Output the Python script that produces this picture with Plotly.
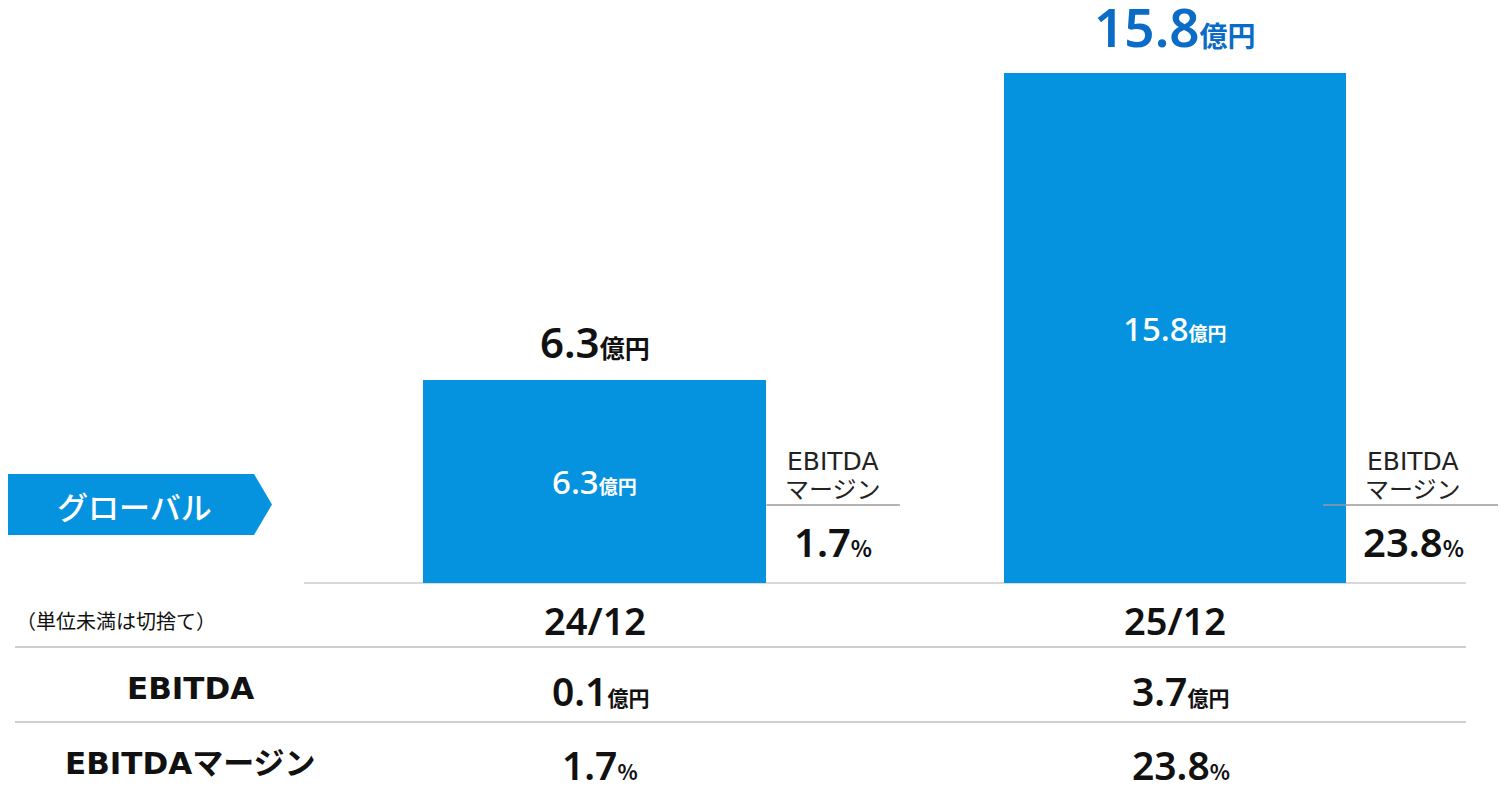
import plotly.graph_objects as go

# ---- data ----
periods = ["24/12", "25/12"]
revenue = [6.3, 15.8]          # 億円
ebitda = [0.1, 3.7]            # 億円
ebitda_margin = [1.7, 23.8]    # %
segment = "グローバル"
note = "（単位未満は切捨て）"
row_labels = ["EBITDA", "EBITDAマージン"]
side_label = ["EBITDA", "マージン"]

W, H = 1506, 793
O = 8  # page body margin offset
BLUE = "#0593E0"
JP = "Noto Sans CJK JP"
NUM = "Noto Sans, Noto Sans CJK JP"
LAT = "DejaVu Sans, Noto Sans CJK JP"
top_colors = ["#111111", "#0A6CC6"]


def px(x):
    return (x - O) / W


def py(y):
    return 1 - (y - O) / H


fig = go.Figure()
fig.add_trace(go.Bar(
    x=periods, y=revenue, width=0.59,
    marker=dict(color=BLUE, line=dict(width=0)),
    hoverinfo="skip",
))

# axis mapping: category spacing 580.5 px, first category centre at 594.5 px (page)
k = 580.5
xmin = -(594.5 - O) / k
xmax = xmin + W / k
ky = 510 / 15.8
ymin = -(H - (583 - O)) / ky
ymax = ymin + H / ky

fig.update_layout(
    width=W, height=H,
    margin=dict(l=0, r=0, t=0, b=0),
    paper_bgcolor="white", plot_bgcolor="white",
    showlegend=False,
    font=dict(family=JP, color="#111111"),
    xaxis=dict(range=[xmin, xmax], visible=False, fixedrange=True),
    yaxis=dict(range=[ymin, ymax], visible=False, fixedrange=True),
    bargap=0,
)

ann = []
shapes = []


def A(**kw):
    kw.setdefault("showarrow", False)
    kw.setdefault("xanchor", "center")
    kw.setdefault("yanchor", "middle")
    ann.append(kw)


def unit(u, size):
    return f"<span style='font-size:{size}px;font-family:{JP};font-weight:700'>{u}</span>"


for i, v in enumerate(revenue):
    big = 53 if i == 1 else 42
    small = 28 if i == 1 else 25
    A(x=i, y=v, xref="x", yref="y", yanchor="bottom", yshift=8,
      text=f"{v:.1f}{unit('億円', small)}",
      font=dict(size=big, color=top_colors[i], family=NUM, weight=600))
    A(x=i, y=v / 2, xref="x", yref="y",
      text=f"{v:.1f}{unit('億円', 19)}",
      font=dict(size=33, color="white", family=NUM, weight=500))
    A(x=i + 0.41, y=py(476), xref="x", yref="paper",
      text=(f"<span style='font-size:25px;font-family:{LAT}'>{side_label[0]}</span><br>"
            f"<span style='font-size:24px'>{side_label[1]}</span>"),
      font=dict(size=21.5, color="#222222", family=JP))
    A(x=i + 0.41, y=py(541), xref="x", yref="paper",
      text=f"{ebitda_margin[i]:.1f}{unit('%', 22)}",
      font=dict(size=40, color="#111111", family=NUM, weight=600))

# divider lines next to bars
line_off = [(0.296, 0.526), (0.255, 0.57)]
for i, (a, b) in enumerate(line_off):
    shapes.append(dict(type="line", xref="x", yref="paper",
                       x0=i + a, x1=i + b, y0=py(505), y1=py(505),
                       line=dict(color="#9a9a9a", width=1.5)))

# baseline
shapes.append(dict(type="line", xref="paper", yref="y", x0=px(304), x1=px(1466),
                   y0=0, y1=0, line=dict(color="#d9d9d9", width=2), layer="below"))

# segment tag (arrow shape)
path = (f"M {px(8)},{py(474)} L {px(254)},{py(474)} L {px(272)},{py(504.5)} "
        f"L {px(254)},{py(535)} L {px(8)},{py(535)} Z")
shapes.append(dict(type="path", xref="paper", yref="paper", path=path,
                   fillcolor=BLUE, line=dict(width=0)))
A(x=px(135), y=py(506), xref="paper", yref="paper", text=segment,
  font=dict(size=31, color="white", family=JP, weight=500))

# table
A(x=px(14), y=py(620), xref="paper", yref="paper", xanchor="left", text=note,
  font=dict(size=20, color="#111111", family=JP))
for i, p in enumerate(periods):
    A(x=i, y=py(620), xref="x", yref="paper", text=p,
      font=dict(size=38, color="#111111", family=NUM, weight=600))
    A(x=i + 0.01, y=py(690), xref="x", yref="paper",
      text=f"{ebitda[i]:.1f}{unit('億円', 21)}",
      font=dict(size=39, color="#111111", family=NUM, weight=600))
    A(x=i + 0.01, y=py(764), xref="x", yref="paper",
      text=f"{ebitda_margin[i]:.1f}{unit('%', 21)}",
      font=dict(size=39, color="#111111", family=NUM, weight=600))

A(x=px(190), y=py(688), xref="paper", yref="paper", text=f"<b>{row_labels[0]}</b>",
  font=dict(size=31, color="#111111", family=LAT))
A(x=px(190), y=py(763), xref="paper", yref="paper", text=f"<b>{row_labels[1]}</b>",
  font=dict(size=31, color="#111111", family=LAT))

for yy in (647, 722):
    shapes.append(dict(type="line", xref="paper", yref="paper", x0=px(15), x1=px(1466),
                       y0=py(yy), y1=py(yy), line=dict(color="#bfbfbf", width=1.5)))

fig.update_layout(annotations=ann, shapes=shapes)
fig.write_html("out.html")
